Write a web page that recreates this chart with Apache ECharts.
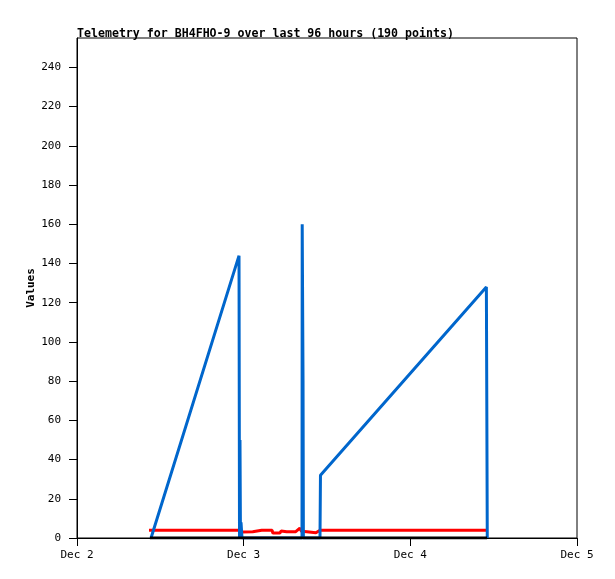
<!DOCTYPE html>
<html>
<head>
<meta charset="utf-8">
<script src="https://cdn.jsdelivr.net/npm/echarts@6/dist/echarts.min.js"></script>
<style>
html, body { margin: 0; padding: 0; background: #fff; }
#chart { width: 615px; height: 579px; }
</style>
</head>
<body>
<div id="chart"></div>
<script>
// hours since Dec 2 00:00
var dayLabels = ['Dec 2', 'Dec 3', 'Dec 4', 'Dec 5'];

var blueHours = [10.66, 23.33, 23.4, 23.47, 23.54, 23.62, 23.76, 32.4, 32.43, 32.55, 32.6, 34.99, 35.06, 58.95, 59.02, 59.08];
var blueValues = [0, 144, 0, 50, 0, 8, 0, 0, 160, 80, 0, 0, 32, 128, 60, 0];

var redHours = [10.37, 23.47, 23.76, 25.3, 26.6, 28.1, 28.2, 29.2, 29.4, 30.2, 31.5, 31.7, 32.1, 32.3, 33.1, 34.4, 35.0, 59.0];
var redValues = [4, 4, 3, 3.2, 3.9, 3.9, 2.5, 2.5, 3.6, 3.2, 3.2, 4, 5, 3.5, 3.2, 2.7, 4, 4];

var blackHours = [10.5, 59.05];
var blackValues = [0, 0];

function pairs(xs, ys) {
  return xs.map(function (x, i) { return [x, ys[i]]; });
}

var font = '"DejaVu Sans Mono", monospace';

var chart = echarts.init(document.getElementById('chart'));
var option = {
  animation: false,
  title: {
    text: 'Telemetry for BH4FHO-9 over last 96 hours (190 points)',
    left: 72,
    top: 23,
    textStyle: { fontFamily: font, fontSize: 11.6, fontWeight: 'bold', color: '#000' }
  },
  grid: {
    left: 77, right: 38, top: 38, bottom: 41,
    show: true, borderColor: '#000', borderWidth: 1
  },
  xAxis: {
    type: 'value',
    min: 0, max: 72, interval: 24,
    splitLine: { show: false },
    axisLine: { lineStyle: { color: '#000' } },
    axisTick: { length: 8, lineStyle: { color: '#000' } },
    axisLabel: {
      color: '#000', fontFamily: font, fontSize: 11, margin: 12,
      formatter: function (v) { return dayLabels[Math.round(v / 24)]; }
    }
  },
  yAxis: {
    type: 'value',
    min: 0, max: 255, interval: 20,
    name: 'Values',
    nameLocation: 'middle',
    nameGap: 40,
    nameMoveOverlap: false,
    nameTextStyle: { fontFamily: font, fontSize: 11, fontWeight: 'bold', color: '#000' },
    splitLine: { show: false },
    axisLine: { show: true, lineStyle: { color: '#000' } },
    axisTick: { length: 8, lineStyle: { color: '#000' } },
    axisLabel: { color: '#000', fontFamily: font, fontSize: 11, margin: 16, showMaxLabel: false }
  },
  series: [
    {
      type: 'line', data: pairs(redHours, redValues),
      showSymbol: false, z: 2,
      lineStyle: { color: '#ff0000', width: 3 }
    },
    {
      type: 'line', data: pairs(blueHours, blueValues),
      showSymbol: false, z: 3,
      lineStyle: { color: '#0066cc', width: 3 }
    },
    {
      type: 'line', data: pairs(blackHours, blackValues),
      showSymbol: false, z: 4,
      lineStyle: { color: '#000', width: 3 }
    }
  ]
};
chart.setOption(option);
</script>
</body>
</html>
